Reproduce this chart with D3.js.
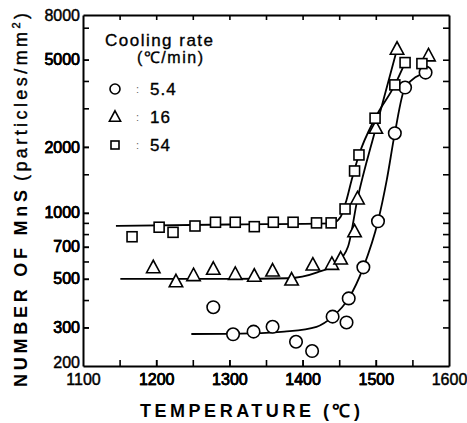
<!DOCTYPE html>
<html><head><meta charset="utf-8">
<script src="https://cdn.jsdelivr.net/npm/d3@7"></script>
<style>body{margin:0;background:#fff}</style>
</head><body>
<svg id="c" width="467" height="423"></svg>
<script>
// ---- data ----
const xTickValues = [1150,1200,1250,1300,1350,1400,1450,1500,1550];
const xTickLabels = [1100,1200,1300,1400,1500,1600];
const yTickValues = [300,400,500,600,700,800,900,1000,1500,2000,3000,4000,5000,7000];
const yTickLabels = [200,300,500,700,1000,2000,5000,8000];

const seriesNames = ["5.4","16","54"];
const circleTemp = [1278,1305,1333,1359,1391,1413,1441,1460,1463,1483,1503,1526,1540,1568];
const circleVal  = [371,279,287,302,258,234,336,316,407,564,915,2310,3733,4368];
const triangleTemp = [1196,1227,1251,1278,1308,1334,1359,1385,1414,1440,1452,1471,1475,1500,1529,1572];
const triangleVal  = [562,485,517,553,524,514,543,494,578,582,616,820,1158,2434,5585,5206];
const squareTemp = [1167,1204,1223,1253,1281,1308,1334,1360,1387,1419,1439,1458,1471,1477,1499,1526,1540,1563];
const squareVal  = [778,860,815,871,906,906,865,906,906,900,900,1042,1553,1838,2704,3838,4852,4800];

// fitted curves
const circleFitT = [1248,1330,1375,1419,1441,1463,1483,1503,1515,1526,1540,1568];
const circleFitV = [280,282,287,302,336,407,564,915,1414,2310,3733,4368];
const triangleFitT = [1151,1300,1380,1420,1445,1462,1475,1500,1529];
const triangleFitV = [500,500,503,535,585,700,1158,2434,5585];
const squareFitT = [1145,1300,1440,1452,1460,1467,1477,1499,1526,1540];
const squareFitV = [872,885,895,960,1146,1414,1838,2704,3838,4852];

// ---- chart ----
const svg = d3.select("#c");
const L=83, R=449, T=15, B=366;
const x = d3.scaleLinear().domain([1100,1600]).range([L,R]);
const y = d3.scaleLog().domain([200,8000]).range([B,T]);
const font = "'Liberation Sans', Arial, sans-serif";

function styleAxis(g){
  g.selectAll("path.domain").attr("stroke","#000").attr("stroke-width",2);
  g.selectAll(".tick line").attr("stroke","#000").attr("stroke-width",1.6);
  g.selectAll("text").attr("font-family",font).attr("font-size",16).attr("fill","#000")
    .attr("stroke","#000").attr("stroke-width",0.45);
}
svg.append("g").attr("transform",`translate(0,${B})`)
  .call(d3.axisBottom(x).tickValues(d3.merge([xTickValues,xTickLabels]).sort(d3.ascending))
    .tickSizeInner(-6).tickSizeOuter(0).tickPadding(8)
    .tickFormat(d => xTickLabels.includes(d) ? d : ""))
  .call(styleAxis)
  .call(g=>g.selectAll(".tick").filter(d=>d===1100||d===1600).select("line").remove());
svg.append("g").attr("transform",`translate(0,${T})`)
  .call(d3.axisTop(x).tickValues(xTickValues).tickSizeInner(-5).tickSizeOuter(0).tickFormat(""))
  .call(styleAxis);
svg.append("g").attr("transform",`translate(${L},0)`)
  .call(d3.axisLeft(y).tickValues(d3.merge([yTickValues,yTickLabels]).sort(d3.ascending))
    .tickSizeInner(-6).tickSizeOuter(0).tickPadding(3)
    .tickFormat(d => yTickLabels.includes(d) ? d : ""))
  .call(styleAxis)
  .call(g=>g.selectAll(".tick").filter(d=>d===200||d===8000).select("line").remove())
  .call(g=>g.selectAll(".tick").filter(d=>d===200).select("text").attr("dy","0.1em"));
svg.append("g").attr("transform",`translate(${R},0)`)
  .call(d3.axisRight(y).tickValues(yTickValues).tickSizeInner(-6).tickSizeOuter(0).tickFormat(""))
  .call(styleAxis);

// fit lines
const line = d3.line().x(d=>x(d[0])).y(d=>y(d[1])).curve(d3.curveMonotoneX);
[[circleFitT,circleFitV],[triangleFitT,triangleFitV],[squareFitT,squareFitV]].forEach(([t,v])=>{
  svg.append("path").datum(t.map((d,i)=>[d,v[i]])).attr("d",line)
    .attr("fill","none").attr("stroke","#000").attr("stroke-width",1.8);
});

// markers
const triPath = s => `M0,${-s*0.62}L${s*0.56},${s*0.42}L${-s*0.56},${s*0.42}Z`;
function drawMarker(g, type, size){
  if(type==="circle") g.append("circle").attr("r",size/2);
  else if(type==="triangle") g.append("path").attr("d",triPath(size));
  else g.append("rect").attr("x",-size/2).attr("y",-size/2).attr("width",size).attr("height",size);
  g.selectAll("*").attr("fill","#fff").attr("stroke","#000").attr("stroke-width",1.6);
}
const sets = [["circle",circleTemp,circleVal,12.5],["triangle",triangleTemp,triangleVal,12],["square",squareTemp,squareVal,10]];
sets.forEach(([type,t,v,s])=>{
  t.forEach((d,i)=>{
    const g = svg.append("g").attr("transform",`translate(${x(d)},${y(v[i])})`);
    drawMarker(g,type,s);
  });
});

// legend
const txt = (sel)=>sel.attr("font-family",font).attr("fill","#000").attr("stroke","#000").attr("stroke-width",0.35);
txt(svg.append("text").attr("x",105).attr("y",46).attr("font-size",17)
  .attr("textLength",108).attr("lengthAdjust","spacing").text("Cooling rate"));
txt(svg.append("text").attr("x",137).attr("y",63).attr("font-size",16)
  .attr("textLength",66).attr("lengthAdjust","spacing").text("(℃/min)"));
const legY = [89,117,145];
["circle","triangle","square"].forEach((type,i)=>{
  const g = svg.append("g").attr("transform",`translate(115,${legY[i]})`);
  drawMarker(g,type,type==="square"?8:10);
  svg.append("text").attr("x",136).attr("y",legY[i]+4).attr("font-family",font).attr("font-size",11)
    .attr("fill","#666").text(":");
  txt(svg.append("text").attr("x",150).attr("y",legY[i]+6).attr("font-size",17)
    .attr("letter-spacing",1).text(seriesNames[i]));
});

// axis titles
svg.append("text").attr("x",140).attr("y",417).attr("font-family",font).attr("font-size",18)
  .attr("font-weight","bold").attr("textLength",220).attr("lengthAdjust","spacing").text("TEMPERATURE (℃)");
const yt = svg.append("g").attr("transform","translate(27,0) rotate(-90)");
yt.append("text").attr("x",-387).attr("y",0).attr("font-family",font).attr("font-size",18)
  .attr("font-weight","bold").attr("textLength",197).attr("lengthAdjust","spacing").text("NUMBER OF MnS");
const yt2 = yt.append("text").attr("x",-181).attr("y",0).attr("font-family",font).attr("font-size",18)
  .attr("stroke","#000").attr("stroke-width",0.4)
  .attr("textLength",168).attr("lengthAdjust","spacing");
yt2.append("tspan").text("(particles/mm");
yt2.append("tspan").attr("dy",-7).attr("font-size",11).text("2");
yt2.append("tspan").attr("dy",7).text(")");
</script>
</body></html>
